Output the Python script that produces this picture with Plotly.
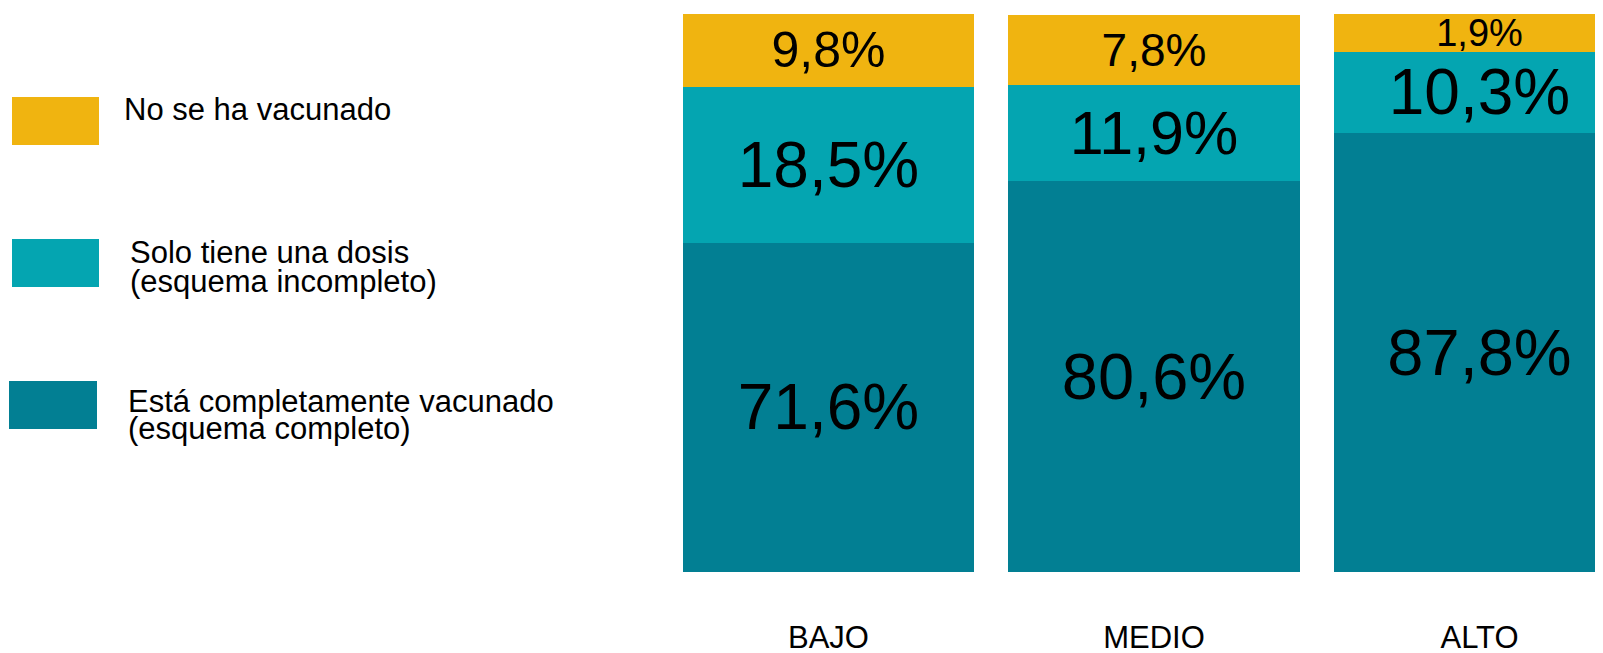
import plotly.graph_objects as go

# Categories and series
categories = ['BAJO', 'MEDIO', 'ALTO']
series_names = ['Está completamente vacunado', 'Solo tiene una dosis', 'No se ha vacunado']
legend_lines = [
    ['Está completamente vacunado', '(esquema completo)'],
    ['Solo tiene una dosis', '(esquema incompleto)'],
    ['No se ha vacunado'],
]

# Segment heights as drawn in the picture (share of bar)
completo_height = [58.9, 69.9, 78.6]
incompleto_height = [27.8, 17.2, 14.4]
no_vacunado_height = [13.2, 12.5, 6.8]

# Printed labels
completo_label = ['71,6%', '80,6%', '87,8%']
incompleto_label = ['18,5%', '11,9%', '10,3%']
no_vacunado_label = ['9,8%', '7,8%', '1,9%']

colors = ['#027F93', '#04A5B1', '#F0B410']
font = 'Arial, Liberation Sans, sans-serif'

fig = go.Figure()

traces = [
    (completo_height, completo_label, [64, 65, 65]),
    (incompleto_height, incompleto_label, [64, 61, 64]),
    (no_vacunado_height, no_vacunado_label, [50, 46, 38]),
]
for (heights, labels, sizes), name, color in zip(traces, series_names, colors):
    fig.add_trace(go.Bar(
        x=list(range(len(categories))),
        y=heights,
        name=name,
        marker=dict(color=color, line=dict(width=0)),
        text=labels,
        textposition='inside',
        insidetextanchor='middle',
        textangle=0,
        constraintext='none',
        textfont=dict(family=font, size=sizes, color='black'),
        hoverinfo='skip',
    ))

W, H = 1603, 653
OFF = 8  # page body margin
top, bottom = 13 - OFF, 572 - OFF
plot_h = bottom - top

fig.update_layout(
    width=W, height=H,
    barmode='stack',
    bargap=0.105,
    showlegend=False,
    plot_bgcolor='white',
    paper_bgcolor='white',
    margin=dict(l=0, r=OFF, t=top, b=H - bottom),
    xaxis=dict(
        range=[-(828.5 - OFF) / 325.5, (W - 828.5) / 325.5],
        tickmode='array',
        tickvals=list(range(len(categories))),
        ticktext=categories,
        tickfont=dict(family=font, size=31, color='black'),
        ticks='',
        ticklabelstandoff=44,
        showgrid=False, zeroline=False, showline=False,
    ),
    yaxis=dict(range=[0, 100], visible=False),
)

# Hand-drawn legend on the left
swatch_y = [(381, 429), (239, 287), (97, 145)]
swatch_x = [(9, 97), (12, 99), (12, 99)]
text_y = [[401, 428], [253, 281], [109]]
text_x = [126, 128, 122]
pw = W - OFF


def px(x):
    return (x - OFF) / pw


def py(y):
    return 1 - (y - OFF - top) / plot_h


for i, color in enumerate(colors):
    x0, x1 = swatch_x[i]
    y0, y1 = swatch_y[i]
    fig.add_shape(type='rect', xref='paper', yref='paper',
                  x0=px(x0), x1=px(x1), y0=py(y1), y1=py(y0),
                  fillcolor=color, line=dict(width=0))
    for line, ty in zip(legend_lines[i], text_y[i]):
        fig.add_annotation(text=line, xref='paper', yref='paper',
                           x=px(text_x[i]), y=py(ty),
                           xanchor='left', yanchor='middle', showarrow=False,
                           font=dict(family=font, size=31, color='black'))

fig.write_html("out.html")
